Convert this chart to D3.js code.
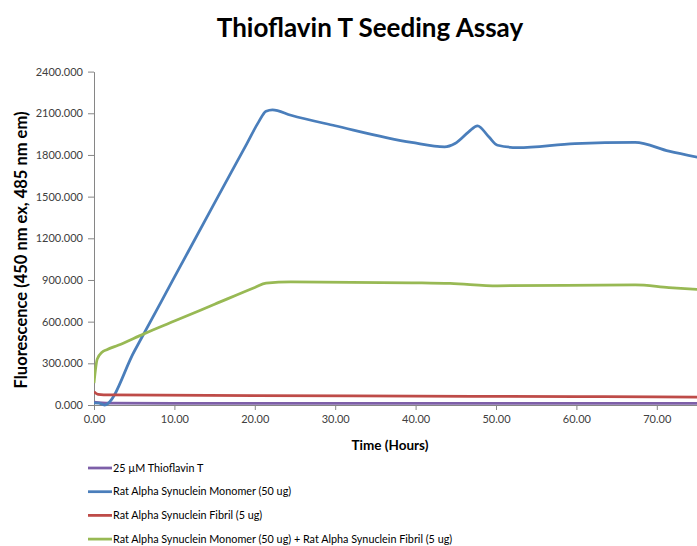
<!DOCTYPE html>
<html>
<head>
<meta charset="utf-8">
<script src="https://cdn.jsdelivr.net/npm/d3@7"></script>
<style>
    body { margin: 0; background: #fff; }
    #chart { width: 697px; height: 546px; }
    text { font-family: Lato, "Open Sans", sans-serif; }
</style>
</head>
<body>
<div id="chart"></div>
<script>
const xTicks = [0, 10, 20, 30, 40, 50, 60, 70];
const yTicks = [0, 300, 600, 900, 1200, 1500, 1800, 2100, 2400];

const thioflavinTime = [0, 1, 2, 10, 20, 30, 40, 50, 60, 70, 75];
const thioflavinValues = [20, 15, 13, 12, 12, 12, 12, 12, 12, 12, 12];

const monomerTime = [0, 0.6, 1.3, 5, 10, 15, 19, 20.5, 21.4, 22.2, 24.5, 30, 39.5, 43.6, 44.9, 46.6, 47.7, 49.1, 50.2, 52.7, 59.8, 67.3, 71.5, 75.2];
const monomerValues = [15, 14, 0, 385, 920, 1455, 1880, 2040, 2115, 2125, 2086, 2010, 1890, 1858, 1882, 1966, 2010, 1931, 1870, 1853, 1882, 1890, 1827, 1782];

const fibrilTime = [0, 0.5, 2, 20, 40, 60, 70, 75];
const fibrilValues = [96, 76, 72, 68, 64, 60, 58, 56];

const seededTime = [0, 0.4, 1.0, 1.6, 3, 6.2, 10, 15, 20, 21.4, 24.5, 39.5, 44.3, 50.2, 67.3, 71.5, 75.2];
const seededValues = [158, 330, 380, 398, 430, 512, 604, 725, 846, 878, 887, 880, 875, 858, 864, 845, 832];

const seriesNames = [
    '25 µM Thioflavin T',
    'Rat Alpha Synuclein Monomer (50 ug)',
    'Rat Alpha Synuclein Fibril (5 ug)',
    'Rat Alpha Synuclein Monomer (50 ug) + Rat Alpha Synuclein Fibril (5 ug)'
];
const seriesColors = ['#7D5FA8', '#4A7EBB', '#BE4B48', '#98B954'];

document.addEventListener('DOMContentLoaded', () => {
    const width = 697;
    const height = 546;

    const series = [
        [thioflavinTime, thioflavinValues],
        [monomerTime, monomerValues],
        [fibrilTime, fibrilValues],
        [seededTime, seededValues]
    ].map(([t, v], i) => ({
        name: seriesNames[i],
        color: seriesColors[i],
        points: t.map((d, j) => ({ t: d, v: v[j] }))
    }));

    const svg = d3.select('#chart')
        .append('svg')
        .attr('width', width)
        .attr('height', height);

    const x = d3.scaleLinear().domain([0, 75]).range([94, 697]);
    const y = d3.scaleLinear().domain([0, 2400]).range([405, 71.6]);

    // Title
    svg.append('text')
        .attr('x', 370)
        .attr('y', 37)
        .attr('text-anchor', 'middle')
        .attr('font-size', 26)
        .attr('font-weight', 'bold')
        .attr('fill', '#000')
        .text('Thioflavin T Seeding Assay');

    // Axes
    const yAxis = svg.append('g')
        .attr('transform', `translate(${x(0)},0)`)
        .call(d3.axisLeft(y).tickValues(yTicks).tickFormat(d3.format('.3f')).tickSize(6).tickSizeOuter(0));

    const xAxis = svg.append('g')
        .attr('transform', `translate(0,${y(0)})`)
        .call(d3.axisBottom(x).tickValues(xTicks).tickFormat(d3.format('.2f')).tickSize(5).tickSizeOuter(0));

    [xAxis, yAxis].forEach(g => {
        g.select('.domain').attr('stroke', '#868686');
        g.selectAll('.tick line').attr('stroke', '#868686');
        g.selectAll('.tick text')
            .attr('fill', '#404040')
            .attr('font-size', 11)
            .style('font-family', 'Lato, "Open Sans", sans-serif');
    });
    yAxis.selectAll('.tick text').attr('x', -11);
    xAxis.selectAll('.tick text').attr('y', 10);

    // Axis titles
    svg.append('text')
        .attr('x', 390)
        .attr('y', 450)
        .attr('text-anchor', 'middle')
        .attr('font-size', 13.5)
        .attr('font-weight', 'bold')
        .text('Time (Hours)');

    svg.append('text')
        .attr('transform', 'translate(27,250) rotate(-90)')
        .attr('text-anchor', 'middle')
        .attr('font-size', 16.5)
        .attr('font-weight', 'bold')
        .text('Fluorescence (450 nm ex, 485 nm em)');

    // Lines
    const line = d3.line()
        .x(d => x(d.t))
        .y(d => y(d.v))
        .curve(d3.curveMonotoneX);

    svg.append('defs').append('clipPath')
        .attr('id', 'plot-clip')
        .append('rect')
        .attr('x', x(0))
        .attr('y', 0)
        .attr('width', width - x(0))
        .attr('height', y(0) + 2);

    svg.append('g')
        .attr('clip-path', 'url(#plot-clip)')
        .selectAll('path')
        .data(series)
        .join('path')
        .attr('fill', 'none')
        .attr('stroke', d => d.color)
        .attr('stroke-width', 2.75)
        .attr('stroke-linejoin', 'round')
        .attr('d', d => line(d.points));

    // Legend
    const legend = svg.append('g')
        .selectAll('g')
        .data(series)
        .join('g')
        .attr('transform', (d, i) => `translate(88,${468 + i * 23.7})`);

    legend.append('line')
        .attr('x1', 0)
        .attr('x2', 24)
        .attr('stroke', d => d.color)
        .attr('stroke-width', 2.75);

    legend.append('text')
        .attr('x', 25)
        .attr('dy', '0.35em')
        .attr('font-size', 10.8)
        .attr('fill', '#000')
        .text(d => d.name);
});
</script>
</body>
</html>
